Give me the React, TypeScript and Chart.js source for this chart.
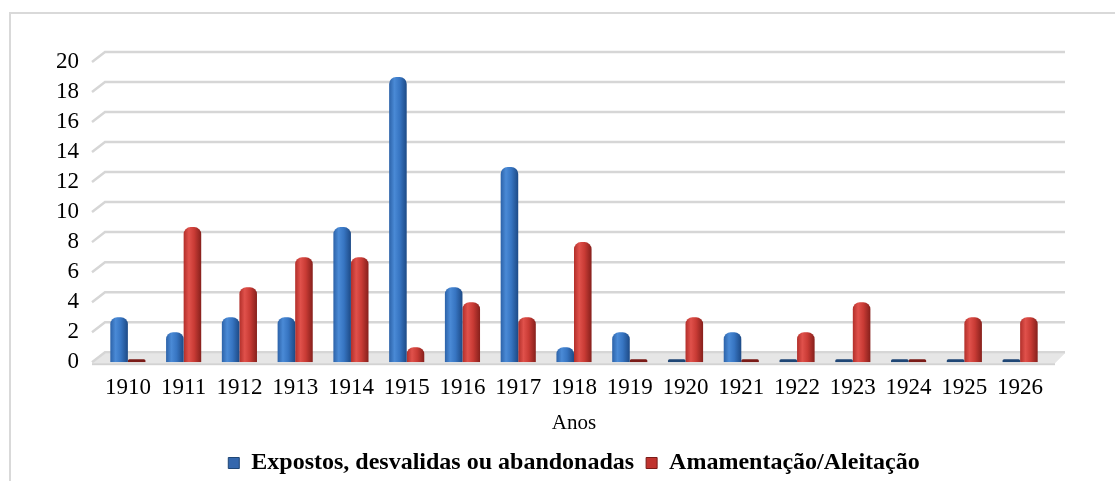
import React, { useEffect, useRef } from "react";
import { Chart, registerables } from "chart.js";

Chart.register(...registerables);

const categories = ["1910", "1911", "1912", "1913", "1914", "1915", "1916", "1917", "1918", "1919", "1920", "1921", "1922", "1923", "1924", "1925", "1926"];
const expostos = [3, 2, 3, 3, 9, 19, 5, 13, 1, 2, 0, 2, 0, 0, 0, 0, 0];
const amamentacao = [0, 9, 5, 7, 7, 1, 4, 3, 8, 0, 3, 0, 2, 4, 0, 3, 3];
const seriesNames = ["Expostos, desvalidas ou abandonadas", "Amamentação/Aleitação"];
const axisTitle = "Anos";

const FONT = "'Liberation Serif', 'Times New Roman', serif";
const CAT_PCT = 0.63;

const palettes = [
  { stops: ["#2c62a8", "#4a8ad6", "#3775c2", "#1d4a86"], zero: "#1f4675", legend: "#3467ad" },
  { stops: ["#b22f2a", "#e0514b", "#c93b35", "#86201c"], zero: "#7a1b17", legend: "#c0332e" },
];

function barFill(ctx: any) {
  const chart = ctx.chart;
  const pal = palettes[ctx.datasetIndex];
  const xs = chart.scales && chart.scales.x;
  if (ctx.raw === 0) return pal.zero;
  if (!xs || !isFinite(xs.left) || xs.right <= xs.left) return pal.stops[2];
  const catW = (xs.right - xs.left) / categories.length;
  const groupW = catW * CAT_PCT;
  const barW = groupW / 2;
  const center = xs.getPixelForValue(ctx.dataIndex);
  const left = center - groupW / 2 + ctx.datasetIndex * barW;
  const g = chart.ctx.createLinearGradient(left, 0, left + barW, 0);
  g.addColorStop(0, pal.stops[0]);
  g.addColorStop(0.3, pal.stops[1]);
  g.addColorStop(0.6, pal.stops[2]);
  g.addColorStop(1, pal.stops[3]);
  return g;
}

const backdropPlugin = {
  id: "backdrop3d",
  beforeDraw(chart: any) {
    const c = chart.ctx;
    c.save();
    c.strokeStyle = "#d9d9d9";
    c.lineWidth = 2;
    c.beginPath();
    c.moveTo(10, chart.height);
    c.lineTo(10, 13);
    c.lineTo(chart.width, 13);
    c.stroke();
    c.restore();
  },
  beforeDatasetsDraw(chart: any) {
    const c = chart.ctx;
    const ys = chart.scales.y;
    const area = chart.chartArea;
    const left = area.left;
    const right = area.right;
    c.save();
    // floor
    const y0 = ys.getPixelForValue(0);
    c.fillStyle = "#e6e6e6";
    c.beginPath();
    c.moveTo(left - 8, y0 + 1);
    c.lineTo(left + 5, y0 - 9);
    c.lineTo(right + 17, y0 - 9);
    c.lineTo(right + 7, y0 + 1);
    c.closePath();
    c.fill();
    c.fillStyle = "#d2d2d2";
    c.fillRect(left - 8, y0 + 1, right + 7 - (left - 8), 2);
    // gridlines on back wall
    c.lineWidth = 2.5;
    c.strokeStyle = "#d6d6d6";
    ys.ticks.forEach((t: any) => {
      const y = ys.getPixelForValue(t.value);
      c.beginPath();
      c.moveTo(left - 8, y);
      c.lineTo(left + 5, y - 10);
      c.lineTo(right + 17, y - 10);
      c.stroke();
    });
    c.restore();
  },
};

export default function App() {
  const ref = useRef<HTMLCanvasElement | null>(null);
  useEffect(() => {
    document.body.style.margin = "0";
    if (!ref.current) return;
    const chart = new Chart(ref.current, {
      type: "bar",
      data: {
        labels: categories,
        datasets: [
          { label: seriesNames[0], data: expostos, backgroundColor: barFill as any },
          { label: seriesNames[1], data: amamentacao, backgroundColor: barFill as any },
        ],
      },
      options: {
        animation: false,
        responsive: true,
        maintainAspectRatio: false,
        layout: { padding: { top: 62, right: 67, bottom: 5, left: 0 } },
        datasets: {
          bar: {
            categoryPercentage: CAT_PCT,
            barPercentage: 1,
            minBarLength: 3,
            borderRadius: { topLeft: 7, topRight: 7, bottomLeft: 0, bottomRight: 0 },
            borderSkipped: "start",
          },
        } as any,
        scales: {
          x: {
            grid: { display: false, drawTicks: false },
            border: { display: false },
            ticks: { color: "#000", font: { family: FONT, size: 23 }, padding: 12, maxRotation: 0, autoSkip: false },
            title: { display: true, text: axisTitle, color: "#000", font: { family: FONT, size: 21 }, padding: { top: -3, bottom: 3 } },
          },
          y: {
            min: 0,
            max: 20,
            grid: { display: false, drawTicks: false },
            border: { display: false },
            ticks: { stepSize: 2, autoSkip: false, color: "#000", font: { family: FONT, size: 23 }, padding: 21 },
            afterFit: (s: any) => {
              s.width = 100;
            },
          },
        },
        plugins: {
          tooltip: { enabled: false },
          legend: {
            position: "bottom",
            fullSize: false,
            labels: {
              color: "#000",
              font: { family: FONT, size: 24, weight: "bold" },
              boxWidth: 11,
              boxHeight: 11,
              padding: 12,
              generateLabels: () =>
                seriesNames.map((n, i) => ({
                  text: n,
                  fillStyle: palettes[i].legend,
                  strokeStyle: palettes[i].zero,
                  lineWidth: 1,
                  datasetIndex: i,
                  hidden: false,
                  fontColor: "#000",
                })),
            },
          },
        },
      },
      plugins: [backdropPlugin],
    });
    return () => chart.destroy();
  }, []);
  return (
    <div style={{ position: "absolute", left: 0, top: 0, width: 1115, height: 481, overflow: "hidden", background: "#fff" }}>
      <div style={{ position: "relative", width: 1115, height: 490 }}>
        <canvas ref={ref} />
      </div>
    </div>
  );
}
